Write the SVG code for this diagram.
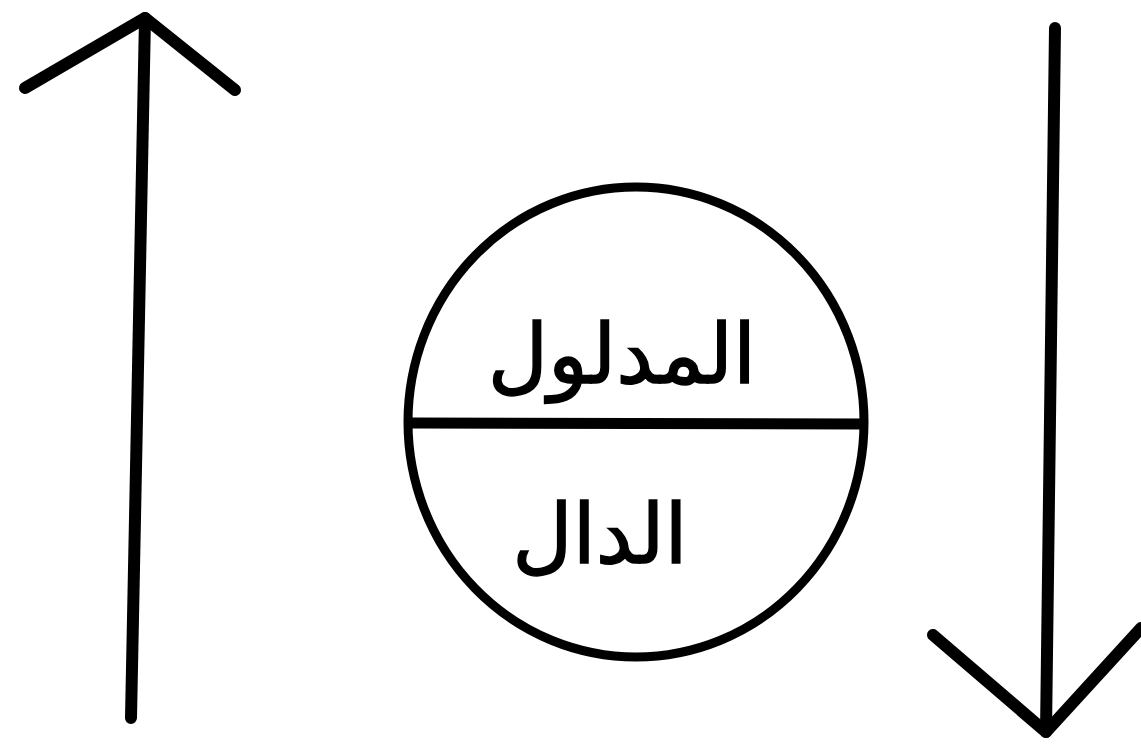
<svg xmlns="http://www.w3.org/2000/svg" width="1141" height="745" viewBox="0 0 1141 745">
<style>
.ln{fill:none;stroke:#000;stroke-width:12;stroke-linecap:round;stroke-linejoin:round}
.lbl{font-family:"DejaVu Sans","Noto Sans",sans-serif;font-size:83px;fill:#000;stroke:#000;stroke-width:1.5;text-anchor:middle}
</style>
<rect width="1141" height="745" fill="#fff"/>
<g id="connectors">
<path class="ln" d="M131,718 L145,18"/>
<path class="ln" d="M25,88 L145,18 L235,90"/>
<path class="ln" d="M1055,28 L1046,732"/>
<path class="ln" d="M933,635 L1046,732 L1141,628"/>
</g>
<g id="sign">
<ellipse class="ln" cx="636" cy="422" rx="228" ry="235" style="stroke-width:9"/>
<path class="ln" d="M412,423 L862,424" style="stroke-width:11;stroke-linecap:butt"/>
<text class="lbl" x="622" y="383">المدلول</text>
<text class="lbl" x="600" y="563">الدال</text>
</g>
</svg>
